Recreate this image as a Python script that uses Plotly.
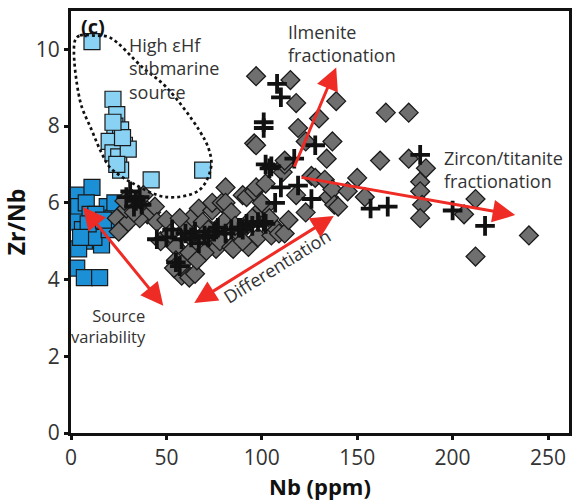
import plotly.graph_objects as go

# ---- data (Nb ppm, Zr/Nb) ----
dark_sq_nb = [3, 11, 4, 8, 3, 10, 19, 22, 15, 6, 7, 16, 4, 12, 20, 3, 7, 15, 23, 9, 13, 17, 5]
dark_sq_zr = [6.2, 6.4, 5.9, 6.0, 5.5, 5.7, 5.9, 5.6, 5.2, 5.3, 5.0, 4.9, 4.8, 5.1, 5.3, 4.3, 4.05, 4.05, 6.0, 5.45, 5.7, 5.55, 5.1]

light_sq_nb = [11, 22, 24, 23, 26, 20, 28, 22, 25, 30, 26, 24, 42, 69, 27, 22]
light_sq_zr = [10.2, 8.7, 8.3, 8.0, 7.9, 7.6, 7.5, 7.3, 7.2, 7.4, 6.85, 7.0, 6.6, 6.85, 7.7, 8.1]

dia_nb = [24, 27, 30, 25, 32, 35, 38, 40, 36, 42, 44, 29, 33, 28, 38, 45,
          47, 50, 52, 55, 55, 58, 60, 62, 65, 54, 58, 63, 67, 69, 71, 74, 74, 76, 78, 79,
          81, 81, 84, 84, 85, 88, 90, 92, 93, 93, 96, 97, 98, 100, 102, 102, 105, 108,
          60, 65, 70, 57, 62, 66, 72, 80, 86, 90, 95,
          96, 97, 97, 111, 112, 112, 109, 112, 114, 115, 118, 119, 123, 123, 126, 128,
          130, 133, 134, 135, 137, 137, 138, 139, 140, 150, 154, 162, 165, 177, 177,
          183, 183, 184, 183, 186, 206, 212, 212, 240, 100, 104, 118, 145]
dia_zr = [5.6, 5.35, 5.5, 5.25, 6.1, 6.0, 5.9, 5.7, 5.6, 5.75, 5.9, 5.85, 5.75, 6.05, 6.2, 5.5,
          5.0, 5.55, 5.2, 4.85, 4.5, 4.1, 4.2, 4.05, 4.15, 4.3, 4.4, 5.6, 5.85, 5.5, 5.05, 5.8, 6.0, 4.8, 5.0, 6.0,
          6.4, 6.0, 5.75, 4.85, 4.8, 5.2, 6.2, 6.15, 4.85, 5.45, 6.3, 6.4, 5.1, 5.85, 6.5, 5.9, 5.15, 5.3,
          5.3, 5.0, 4.7, 5.6, 4.7, 4.5, 5.3, 5.5, 5.4, 5.0, 5.6,
          7.55, 9.3, 7.5, 6.8, 7.0, 7.1, 5.2, 5.2, 5.55, 9.2, 8.6, 7.95, 7.6, 5.75, 6.7, 6.65,
          8.2, 6.6, 7.15, 6.15, 7.6, 6.35, 5.95, 8.65, 5.9, 6.65, 6.15, 7.1, 8.35, 8.35, 7.15,
          6.55, 6.3, 5.95, 5.6, 6.9, 5.7, 6.1, 4.6, 5.15, 6.0, 5.6, 6.2, 6.3]

cross_nb = [29, 31, 34, 37, 33, 36,
            45, 50, 53, 55, 57, 58, 60, 63, 65, 67, 70, 72, 75, 77, 81, 84, 88, 90, 92, 95, 98, 101,
            102, 105, 101, 101, 108, 110, 107, 110, 104, 117, 119, 126, 128, 157, 166, 183, 200, 217, 102, 89]
cross_zr = [6.15, 6.3, 6.05, 5.95, 5.9, 6.15,
            5.05, 5.1, 5.3, 4.45, 4.35, 5.05, 5.2, 5.1, 5.25, 4.95, 5.15, 5.1, 5.25, 5.35, 5.2, 5.3, 5.35, 5.3, 5.45, 5.4, 5.5, 5.5,
            7.0, 6.95, 8.1, 7.95, 9.1, 8.75, 6.0, 6.4, 6.9, 7.15, 6.45, 6.1, 7.5, 5.85, 5.9, 7.25, 5.8, 5.4, 5.45, 5.35]

# dotted envelope around high eHf submarine source
env_nb = [2.1, 4.7, 12.5, 20.3, 37.5, 50, 67.2, 72.4, 73.4, 67.2, 50, 32.3, 20.3, 16.1, 10.9, 4.7, 2.1]
env_zr = [10.23, 10.36, 10.36, 10.31, 9.53, 9.01, 7.89, 7.37, 6.93, 6.33, 6.15, 6.51, 6.93, 7.29, 7.89, 8.67, 10.23]

x_ticks = [0, 50, 100, 150, 200, 250]
y_ticks = [0, 2, 4, 6, 8, 10]

FONT = "Open Sans"
TXT = "#333333"
RED = "#ee2b24"

fig = go.Figure()
fig.add_trace(go.Scatter(x=dark_sq_nb, y=dark_sq_zr, mode="markers",
                         marker=dict(symbol="square", size=16, color="#1b90d6",
                                     line=dict(color="#1a1a1a", width=1.2))))
fig.add_trace(go.Scatter(x=light_sq_nb, y=light_sq_zr, mode="markers",
                         marker=dict(symbol="square", size=16, color="#8ad2f3",
                                     line=dict(color="#1a1a1a", width=1.2))))
fig.add_trace(go.Scatter(x=dia_nb, y=dia_zr, mode="markers",
                         marker=dict(symbol="diamond", size=14.5, color="#6f6f6f",
                                     line=dict(color="#1a1a1a", width=1.3))))
fig.add_trace(go.Scatter(x=cross_nb, y=cross_zr, mode="markers",
                         marker=dict(symbol="cross-thin", size=14,
                                     line=dict(color="#111111", width=3.8))))
fig.add_trace(go.Scatter(x=env_nb, y=env_zr, mode="lines",
                         line=dict(color="#111111", width=2.7, dash="dot", shape="spline")))

# arrows: (tip_x, tip_y, tail_x, tail_y, both)
arrows = [
    (6.25, 5.89, 49, 3.28, True),
    (64.6, 3.39, 138.5, 5.68, True),
    (139, 9.53, 116.7, 6.9, False),
    (232.8, 5.68, 120, 6.67, False),
]
for tx, ty, sx, sy, both in arrows:
    fig.add_annotation(x=tx, y=ty, ax=sx, ay=sy, xref="x", yref="y", axref="x", ayref="y",
                       text="", showarrow=True, arrowhead=2, startarrowhead=2,
                       arrowsize=1.5, startarrowsize=1.5, arrowwidth=3, arrowcolor=RED,
                       arrowside="end+start" if both else "end")

def txt(x, y, s, xanchor="left", angle=0, size=18, align="left"):
    fig.add_annotation(x=x, y=y, xref="x", yref="y", text=s, showarrow=False,
                       xanchor=xanchor, yanchor="middle", textangle=angle, align=align,
                       font=dict(family=FONT, size=size, color=TXT))

txt(29.5, 9.5, "High εHf<br>submarine<br>source")
txt(112.5, 10.15, "Ilmenite<br>fractionation")
txt(194.5, 6.86, "Zircon/titanite<br>fractionation")
txt(40.5, 2.79, "Source<br>variability", xanchor="right", align="right", size=16.5)
txt(108, 4.35, "Differentiation", xanchor="center", angle=-32)
fig.add_annotation(x=4, y=10.6, xref="x", yref="y", text="<b>(c)</b>", showarrow=False,
                   xanchor="left", yanchor="middle",
                   font=dict(family=FONT, size=20, color="#111111"))

axis_common = dict(showgrid=False, zeroline=False, showline=True, linecolor="#111111",
                   linewidth=3, mirror=True, ticks="outside", ticklen=4, tickwidth=2.5,
                   tickcolor="#111111", tickfont=dict(family=FONT, size=21, color=TXT))
fig.update_xaxes(range=[0, 261], tickvals=x_ticks,
                 title=dict(text="<b>Nb (ppm)</b>", font=dict(family=FONT, size=22, color="#111111"),
                            standoff=3),
                 **axis_common)
fig.update_yaxes(range=[0, 11], tickvals=y_ticks,
                 title=dict(text="<b>Zr/Nb</b>", font=dict(family=FONT, size=23, color="#111111"),
                            standoff=4),
                 **axis_common)
fig.update_layout(width=577, height=501, showlegend=False,
                  margin=dict(l=71, r=5, t=11, b=68),
                  plot_bgcolor="white", paper_bgcolor="white")
fig.write_html("out.html")
